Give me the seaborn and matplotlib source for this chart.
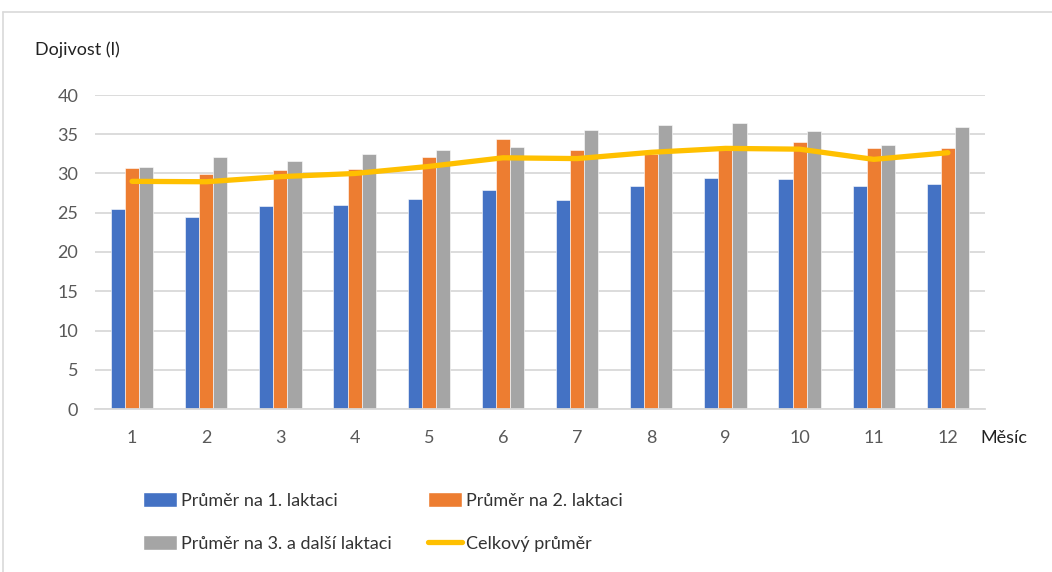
import matplotlib
matplotlib.use("Agg")
import matplotlib.pyplot as plt
from matplotlib.lines import Line2D
from matplotlib.patches import Patch
import pandas as pd
import seaborn as sns

# Data
months = [1, 2, 3, 4, 5, 6, 7, 8, 9, 10, 11, 12]
lact_1 = [25.5, 24.5, 25.9, 26.0, 26.8, 27.9, 26.6, 28.35, 29.4, 29.3, 28.4, 28.6]
lact_2 = [30.7, 29.9, 30.5, 30.6, 32.1, 34.35, 32.95, 32.5, 33.0, 34.0, 33.25, 33.25]
lact_3 = [30.8, 32.1, 31.6, 32.5, 32.95, 33.4, 35.6, 36.2, 36.4, 35.4, 33.6, 35.9]
total = [29.0, 28.95, 29.6, 30.0, 30.9, 32.0, 31.9, 32.7, 33.2, 33.1, 31.8, 32.65]

series_names = [
    "Průměr na 1. laktaci",
    "Průměr na 2. laktaci",
    "Průměr na 3. a další laktaci",
]
total_name = "Celkový průměr"
colors = ["#4472C4", "#ED7D31", "#A5A5A5"]
line_color = "#FFC000"
grid_color = "#D9D9D9"
text_color = "#595959"

bars = pd.DataFrame({
    "Měsíc": months * 3,
    "Dojivost": lact_1 + lact_2 + lact_3,
    "Série": [n for n in series_names for _ in months],
})

sns.set_style("white")
plt.rcParams["font.family"] = ["Lato", "DejaVu Sans"]

fig = plt.figure(figsize=(10.52, 5.72), dpi=100)
ax = fig.add_axes([95 / 1052, 1 - 409 / 572, 890 / 1052, 314 / 572])

sns.barplot(
    data=bars, x="Měsíc", y="Dojivost", hue="Série",
    palette=colors, width=0.57, gap=0, saturation=1,
    edgecolor="white", linewidth=0.4, legend=False, ax=ax,
)
sns.pointplot(
    x=months, y=total, color=line_color, markers="",
    linewidth=3.8, ax=ax,
)

ax.set_ylim(0, 40)
ax.set_xlim(-0.5, 11.5)
ax.set_yticks(range(0, 41, 5))
ax.yaxis.grid(True, color=grid_color, linewidth=1.3)
ax.set_axisbelow(True)
for side in ["top", "right", "left"]:
    ax.spines[side].set_visible(False)
ax.spines["bottom"].set_color(grid_color)
ax.spines["bottom"].set_linewidth(1.3)
ax.tick_params(axis="x", length=0, labelsize=13, labelcolor=text_color, pad=15)
ax.tick_params(axis="y", length=0, labelsize=13, labelcolor=text_color, pad=12)
ax.set_xlabel("")
ax.set_ylabel("")

fig.text(35 / 1052, 1 - 50 / 572, "Dojivost (l)", fontsize=13, color="#222222",
         va="center", ha="left")
fig.text(980 / 1052, 1 - 438 / 572, "Měsíc", fontsize=13, color="#222222",
         va="center", ha="left")

handles = [
    Patch(facecolor=colors[0]),
    Patch(facecolor=colors[2]),
    Patch(facecolor=colors[1]),
    Line2D([0], [0], color=line_color, linewidth=3.8),
]
labels = [series_names[0], series_names[2], series_names[1], total_name]
fig.legend(
    handles, labels, ncol=2, frameon=False,
    loc="upper left", bbox_to_anchor=(143 / 1052, 1 - 492 / 572),
    borderaxespad=0, borderpad=0, fontsize=13,
    handlelength=1.9, handleheight=0.9, handletextpad=0.2,
    columnspacing=2.0, labelspacing=1.45, labelcolor="#333333",
)

# light outer frame like the source screenshot
fig.add_artist(Line2D([3 / 1052, 3 / 1052], [0, 1 - 12 / 572],
                      color=grid_color, linewidth=1.2, transform=fig.transFigure))
fig.add_artist(Line2D([3 / 1052, 1], [1 - 12 / 572, 1 - 12 / 572],
                      color=grid_color, linewidth=1.2, transform=fig.transFigure))

fig.savefig("out.png", dpi=100)
